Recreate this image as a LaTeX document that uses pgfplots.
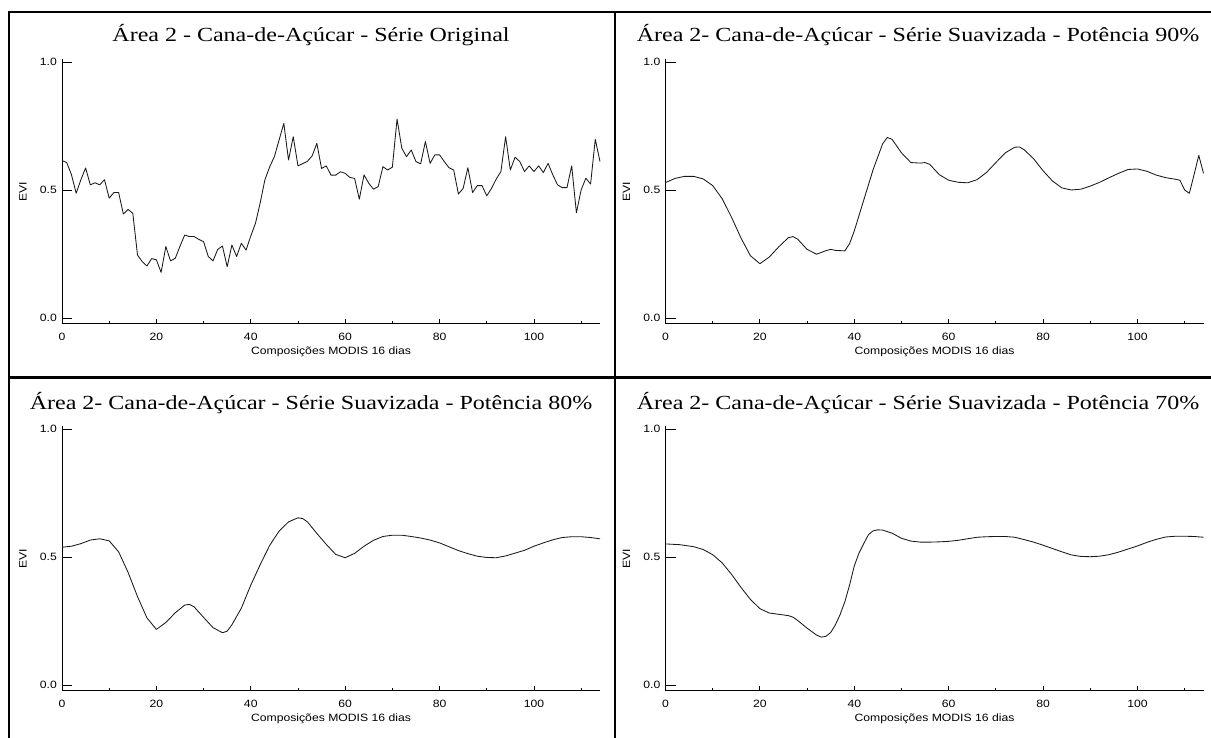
\documentclass[border=0pt]{standalone}
\usepackage{pgfplots}
\pgfplotsset{compat=1.18}
\usepackage{fontspec}
\setmainfont{Liberation Sans}
\newfontfamily\labfont{Liberation Sans}[FakeStretch=1.15]
\newfontfamily\titfont{Liberation Serif}[FakeStretch=1.2]

\pgfplotstableread{
i v
0 0.615
1 0.607
2 0.56
3 0.487
4 0.54
5 0.586
6 0.52
7 0.528
8 0.52
9 0.54
10 0.468
11 0.49
12 0.49
13 0.406
14 0.424
15 0.409
16 0.246
17 0.22
18 0.203
19 0.232
20 0.227
21 0.178
22 0.279
23 0.223
24 0.233
25 0.28
26 0.324
27 0.318
28 0.318
29 0.307
30 0.298
31 0.24
32 0.223
33 0.268
34 0.281
35 0.2
36 0.285
37 0.24
38 0.292
39 0.265
40 0.32
41 0.37
42 0.45
43 0.54
44 0.59
45 0.63
46 0.695
47 0.76
48 0.617
49 0.708
50 0.594
51 0.603
52 0.612
53 0.633
54 0.682
55 0.584
56 0.594
57 0.558
58 0.558
59 0.571
60 0.565
61 0.549
62 0.545
63 0.464
64 0.559
65 0.526
66 0.503
67 0.513
68 0.591
69 0.578
70 0.589
71 0.777
72 0.663
73 0.63
74 0.656
75 0.611
76 0.602
77 0.689
78 0.604
79 0.637
80 0.637
81 0.611
82 0.587
83 0.578
84 0.484
85 0.506
86 0.587
87 0.49
88 0.517
89 0.517
90 0.477
91 0.506
92 0.542
93 0.572
94 0.708
95 0.578
96 0.628
97 0.611
98 0.572
99 0.594
100 0.572
101 0.594
102 0.568
103 0.604
104 0.559
105 0.52
106 0.509
107 0.509
108 0.594
109 0.411
110 0.5
111 0.546
112 0.523
113 0.698
114 0.611
}\original

\pgfplotstableread{
i v
0 0.529
2 0.545
4 0.553
6 0.553
8 0.543
10 0.517
12 0.466
14 0.393
16 0.312
18 0.243
20 0.212
22 0.238
24 0.278
26 0.313
27 0.318
28 0.308
30 0.268
32 0.249
34 0.263
35 0.268
36 0.264
38 0.262
39 0.29
40 0.34
42 0.46
44 0.58
46 0.68
47 0.705
48 0.698
50 0.645
52 0.607
54 0.605
55 0.607
56 0.6
58 0.56
60 0.538
62 0.53
64 0.528
66 0.54
68 0.568
70 0.607
72 0.645
74 0.667
75 0.668
76 0.657
78 0.622
80 0.575
82 0.535
84 0.508
86 0.5
88 0.503
90 0.515
92 0.53
94 0.548
96 0.565
98 0.58
100 0.582
102 0.573
104 0.558
106 0.548
108 0.542
109 0.538
110 0.5
111 0.487
112 0.56
113 0.635
114 0.565
}\pnoventa

\pgfplotstableread{
i v
0 0.538
2 0.542
4 0.552
6 0.566
8 0.571
10 0.563
12 0.52
14 0.44
16 0.345
18 0.262
20 0.217
22 0.244
24 0.282
26 0.312
27 0.315
28 0.305
30 0.264
32 0.224
34 0.204
35 0.21
36 0.235
38 0.3
40 0.39
42 0.47
44 0.545
46 0.601
48 0.637
50 0.653
51 0.65
52 0.637
54 0.592
56 0.549
58 0.51
60 0.497
62 0.514
64 0.542
66 0.565
68 0.58
70 0.585
72 0.585
74 0.58
76 0.574
78 0.566
80 0.555
82 0.54
84 0.525
86 0.513
88 0.503
90 0.498
92 0.497
94 0.504
96 0.515
98 0.526
100 0.542
102 0.555
104 0.567
106 0.576
108 0.579
110 0.579
112 0.576
114 0.571
}\poitenta

\pgfplotstableread{
i v
0 0.551
3 0.548
6 0.54
8 0.529
10 0.509
12 0.477
14 0.432
16 0.381
18 0.334
20 0.298
22 0.281
24 0.276
26 0.271
27 0.265
28 0.252
30 0.222
32 0.195
33 0.187
34 0.19
35 0.205
36 0.235
37 0.275
38 0.325
39 0.39
40 0.465
41 0.515
42 0.552
43 0.587
44 0.602
45 0.606
46 0.605
48 0.593
50 0.573
52 0.562
54 0.558
56 0.558
58 0.559
60 0.561
62 0.565
64 0.571
66 0.577
68 0.579
70 0.58
72 0.58
74 0.577
76 0.568
78 0.558
80 0.546
82 0.533
84 0.52
86 0.508
88 0.502
90 0.501
92 0.503
94 0.509
96 0.519
98 0.531
100 0.543
102 0.557
104 0.569
106 0.578
108 0.581
110 0.581
112 0.58
114 0.577
}\psetenta

\pgfplotsset{
  panel/.style={
    scale only axis, width=538pt, height=264.2pt,
    anchor=south west,
    xmin=0, xmax=114, ymin=-0.022, ymax=1.01,
    axis x line=bottom, axis y line=left,
    axis line style={-, line width=0.9pt, black},
    tick align=inside,
    xtick={0,20,40,60,80,100},
    xticklabels={0,20,40,60,80,100},
    minor xtick={10,30,50,70,90,110},
    ytick={0,0.5,1},
    yticklabels={0.0,0.5,1.0},
    tick style={line width=0.8pt, black},
    xtick style={/pgfplots/major tick length=5pt, /pgfplots/minor tick length=3pt},
    ytick style={/pgfplots/major tick length=10pt},
    ticklabel style={font=\labfont\fontsize{10.6}{12}\selectfont},
    xticklabel style={inner sep=0pt, anchor=north, yshift=-9.6pt},
    yticklabel style={inner sep=0pt, anchor=east, xshift=-5pt},
    xlabel={Composições MODIS 16 dias},
    ylabel={EVI},
    label style={font=\labfont\fontsize{10.6}{12}\selectfont},
    xlabel style={at={(axis description cs:0.5,-0.116)}, anchor=base, inner sep=0pt},
    ylabel style={at={(axis description cs:-0.0725,0.5)}, anchor=center, inner sep=0pt},
    clip=false,
  },
  curve/.style={black!90, line width=0.85pt, line join=round, mark=none},
}

\begin{document}
\begin{tikzpicture}
\path[use as bounding box] (0pt,0pt) rectangle (1211pt,-738pt);
% table borders
\draw[line width=2.5pt] (7.75pt,-12pt) -- (1211pt,-12pt);
\draw[line width=2.5pt] (9pt,-12pt) -- (9pt,-738pt);
\draw[line width=2.5pt] (615pt,-12pt) -- (615pt,-738pt);
\draw[line width=2.5pt] (9pt,-377.5pt) -- (1211pt,-377.5pt);

\node[anchor=base, font=\titfont\fontsize{20}{24}\selectfont] at (311pt,-41.7pt) {Área 2 - Cana-de-Açúcar - Série Original};
\node[anchor=base, font=\titfont\fontsize{20}{24}\selectfont] at (918pt,-41.7pt) {Área 2- Cana-de-Açúcar - Série Suavizada - Potência 90\%};
\node[anchor=base, font=\titfont\fontsize{20}{24}\selectfont] at (311pt,-409.2pt) {Área 2- Cana-de-Açúcar - Série Suavizada - Potência 80\%};
\node[anchor=base, font=\titfont\fontsize{20}{24}\selectfont] at (918pt,-409.2pt) {Área 2- Cana-de-Açúcar - Série Suavizada - Potência 70\%};

\begin{axis}[panel, at={(62pt,-323.6pt)}]
\addplot[curve] table[x=i,y=v] {\original};
\end{axis}
\begin{axis}[panel, at={(665.5pt,-323.6pt)}]
\addplot[curve] table[x=i,y=v] {\pnoventa};
\end{axis}
\begin{axis}[panel, at={(62pt,-690.6pt)}]
\addplot[curve] table[x=i,y=v] {\poitenta};
\end{axis}
\begin{axis}[panel, at={(665.5pt,-690.6pt)}]
\addplot[curve] table[x=i,y=v] {\psetenta};
\end{axis}
\end{tikzpicture}
\end{document}
